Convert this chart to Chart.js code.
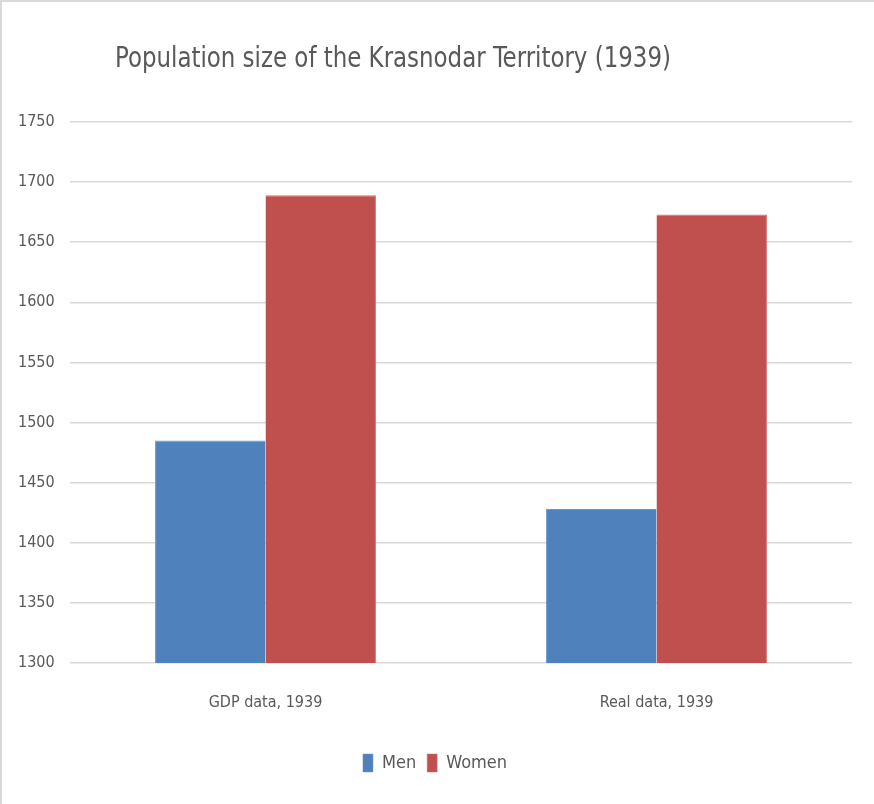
<!DOCTYPE html>
<html>
<head>
<meta charset="utf-8">
<script src="https://cdn.jsdelivr.net/npm/chart.js@4.4.1/dist/chart.umd.min.js"></script>
<style>
  html, body { margin: 0; padding: 0; background: #fff; }
  #wrap {
    position: relative;
    width: 874px;
    height: 804px;
    box-sizing: border-box;
    border-top: 2px solid #d9d9d9;
    border-left: 2px solid #d9d9d9;
  }
</style>
</head>
<body>
<div id="wrap">
  <canvas id="barChart" width="872" height="802"></canvas>
</div>
<script>
// data
const categories = ['GDP data, 1939', 'Real data, 1939'];
const menValues = [1485, 1428];
const womenValues = [1689, 1673];
const yTicks = { min: 1300, max: 1750, step: 50 };
const chartTitle = 'Population size of the Krasnodar Territory (1939)';

const FONT = "'Liberation Sans Narrow', 'DejaVu Sans Condensed', 'Arial Narrow', sans-serif";
const TEXT = '#595959';

// title is drawn off-centre in the original, so draw it ourselves
const titlePlugin = {
  id: 'offsetTitle',
  afterDraw(chart) {
    const ctx = chart.ctx;
    ctx.save();
    ctx.fillStyle = TEXT;
    ctx.font = '28px ' + FONT;
    ctx.textAlign = 'left';
    ctx.textBaseline = 'middle';
    ctx.translate(113, 58);
    ctx.scale(0.91, 1);
    ctx.fillText(chartTitle, 0, 0);
    ctx.restore();
  }
};

const data = {
  labels: categories,
  datasets: [
    {
      label: 'Men',
      data: menValues,
      backgroundColor: '#4F81BD',
      borderColor: '#6d96c9',
      borderWidth: { top: 1, left: 1, right: 0, bottom: 0 }
    },
    {
      label: 'Women',
      data: womenValues,
      backgroundColor: '#C0504D',
      borderColor: '#d07572',
      borderWidth: { top: 1, left: 0, right: 1, bottom: 0 }
    }
  ]
};

const options = {
  responsive: false,
  animation: false,
  layout: {
    padding: { top: 120, left: 16, right: 22, bottom: 22 }
  },
  datasets: {
    bar: {
      categoryPercentage: 0.565,
      barPercentage: 1.0
    }
  },
  scales: {
    x: {
      grid: { display: false },
      border: { display: false },
      ticks: {
        color: TEXT,
        font: { family: FONT, size: 16 },
        padding: 22
      },
      afterFit(scale) { scale.height = 80; }
    },
    y: {
      min: yTicks.min,
      max: yTicks.max,
      border: { display: false },
      grid: { color: '#d9d9d9', lineWidth: 1.5, drawTicks: false },
      ticks: {
        stepSize: yTicks.step,
        color: TEXT,
        font: { family: FONT, size: 16 },
        crossAlign: 'far',
        padding: 18,
        callback: v => String(v)
      },
      afterFit(scale) { scale.width = 52; }
    }
  },
  plugins: {
    title: { display: false },
    tooltip: { enabled: false },
    legend: {
      position: 'bottom',
      labels: {
        color: TEXT,
        font: { family: FONT, size: 18 },
        boxWidth: 10,
        boxHeight: 18,
        padding: 11
      }
    }
  }
};

new Chart(document.getElementById('barChart').getContext('2d'), {
  type: 'bar',
  data,
  options,
  plugins: [titlePlugin]
});
</script>
</body>
</html>
